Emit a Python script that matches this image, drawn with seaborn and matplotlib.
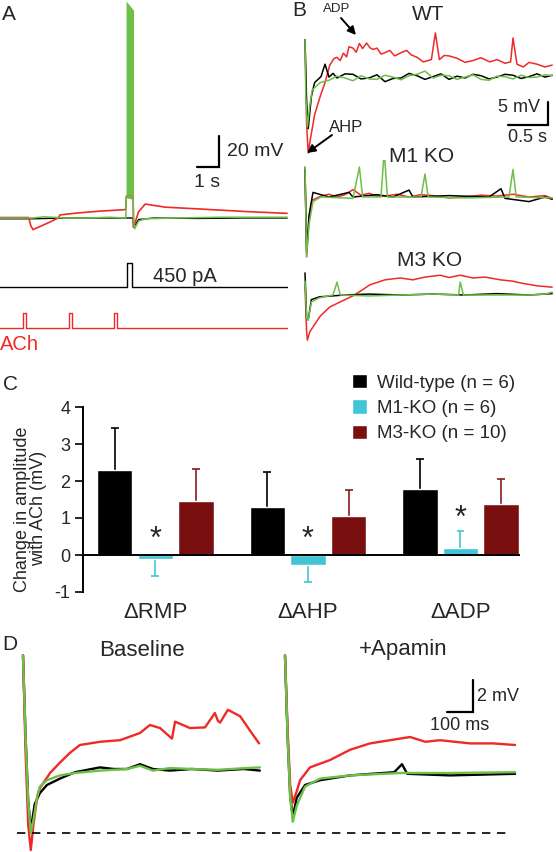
import numpy as np
import pandas as pd
import matplotlib
matplotlib.use("Agg")
import matplotlib.pyplot as plt
import seaborn as sns

# =========================================================
# DATA
# =========================================================
# panel A : voltage (s, mV), current command (pA), ACh puffs
a_black_t = [0, 1.5, 3.0, 5.0, 5.72, 6.05, 6.07, 6.3, 7.0, 9.0, 11.0, 13.05]
a_black_v = [-0.5, -0.5, 0, 0, 0, 0, -6, -1, 0, -0.3, 0, 0]
a_green_t = [0, 1.5, 2.0, 3.0, 4.0, 5.0, 5.72, 5.74, 6.05, 6.07, 6.12, 6.3, 6.6, 8.0, 10.0, 12.0, 13.05]
a_green_v = [0, 0, 0.8, 0, 0, 0.5, 0, 14, 14, 0, -7, -2, -0.5, 0, 0.5, 0.5, 0.5]
a_red_t = [0, 1.3, 1.4, 1.5, 2.27, 2.64, 2.73, 3.5, 4.5, 5.6, 5.72, 5.74, 6.05, 6.07, 6.3, 6.6, 7.5,
           9.1, 11.4, 13.05]
a_red_v = [0.3, 0.3, -5, -7.5, -2.6, 0, 2, 3.2, 4.4, 5.3, 5.5, 14, 14, -6, 4, 9, 7, 5.8, 4, 3]
burst_t = [5.73, 6.07]
burst_top = [140, 134]
burst_bottom = [13, 12]
step_t = [0, 5.76, 5.76, 6.0, 6.0, 13.05]
step_pa = [0, 0, 450, 450, 0, 0]
ach_t = [0, 1.06, 1.06, 1.18, 1.18, 3.14, 3.14, 3.26, 3.26, 5.2, 5.2, 5.33, 5.33, 13.05]
ach_v = [0, 0, 1, 1, 0, 0, 1, 1, 0, 0, 1, 1, 0, 0]

# panel B : WT / M1 KO / M3 KO (s, mV)
wt_red_t = [0, 0.02, 0.04, 0.07, 0.12, 0.19, 0.25, 0.31, 0.36, 0.4, 0.44, 0.48, 0.52, 0.55, 0.6,
            0.64, 0.68, 0.72, 0.77, 0.81, 0.85, 0.9, 0.95, 1.0, 1.06, 1.12, 1.2, 1.27, 1.33, 1.4,
            1.48, 1.58, 1.63, 1.68, 1.74, 1.8, 1.9, 2.0, 2.1, 2.2, 2.31, 2.4, 2.5, 2.57, 2.6, 2.65,
            2.73, 2.8, 2.9, 3.0, 3.09]
wt_red_v = [8.3, -10, -16.3, -13, -8, -4, -1, 2.8, 4.2, 4.5, 3.8, 5.4, 4.6, 6.8, 6.5, 5.6, 7.5, 6.4,
            7.6, 6.6, 6.2, 6.5, 5.2, 5.5, 6, 4.8, 5.5, 6, 5.0, 4.5, 3.5, 4, 9.8, 4, 4.9, 4.8, 4.3,
            3.4, 3.8, 4.4, 3.5, 4.0, 3.2, 3.5, 8.7, 3, 2.4, 3.4, 3, 2.4, 2.8]
wt_black_t = [0, 0.02, 0.04, 0.08, 0.12, 0.2, 0.25, 0.3, 0.35, 0.4, 0.5, 0.6, 0.7, 0.8, 0.9, 1.0,
              1.1, 1.2, 1.3, 1.4, 1.5, 1.6, 1.7, 1.8, 1.9, 2.0, 2.1, 2.2, 2.3, 2.4, 2.5, 2.6, 2.7,
              2.8, 2.9, 3.0, 3.09]
wt_black_v = [8.3, -5, -11, -4, -1, 0.3, 3, 0.2, 1.0, 0, 0.9, 0.8, -0.2, 0, 0.7, -0.8, -0.1, 0,
              1.0, 0.5, -0.3, 0.3, 0.9, -0.3, 0.4, 0, 0.8, 0.5, -0.2, 0.2, 0.8, 0.6, -0.1, 0.3, 0.9,
              0.2, 0.6]
wt_green_t = [0, 0.01, 0.03, 0.06, 0.09, 0.19, 0.3, 0.4, 0.5, 0.6, 0.7, 0.8, 0.9, 1.0, 1.1, 1.2,
              1.3, 1.4, 1.5, 1.6, 1.7, 1.8, 1.9, 2.0, 2.1, 2.2, 2.3, 2.4, 2.5, 2.6, 2.7, 2.8, 2.9,
              3.0, 3.09]
wt_green_v = [8.3, -4, -10.6, -6, -2.6, -1, -0.5, 0.4, 0, -0.6, 0.5, -0.2, -0.3, 0.6, 0.2, -0.4,
              0.5, 0.8, 1.5, 0, 0.6, 0.5, -0.3, 0.2, 0.7, -0.3, -0.5, 0.4, 0.3, -0.2, 0.6, 0.1, 0.2,
              0.7, 0.5]

m1_red_t = [0, 0.02, 0.05, 0.09, 0.2, 0.3, 0.4, 0.5, 0.6, 0.7, 0.8, 0.9, 1.0, 1.15, 1.3, 1.45, 1.6,
            1.8, 2.0, 2.2, 2.4, 2.6, 2.8, 3.0, 3.09]
m1_red_v = [6.5, -13, -5, -0.7, 0.2, 0.6, 0, 0.5, 1.6, 0.4, 0.8, 0.2, 0.2, 0.6, 0, 0.5, 0.3, -0.2,
            0, 0.4, 0.2, 0.6, 0, 0.3, -0.3]
m1_black_t = [0, 0.02, 0.05, 0.1, 0.3, 0.55, 0.6, 0.9, 1.1, 1.3, 1.35, 1.8, 2.3, 2.45, 2.5, 2.8, 3.0,
              3.09]
m1_black_v = [6, -12, -4, 1, 0, 1, 0, 0.5, 0, 1.5, 0, 0.3, 0, 1.8, -0.3, -1, 0, -0.5]
m1_green_t = [0, 0.02, 0.05, 0.1, 0.2, 0.6, 0.68, 0.72, 0.95, 0.99, 1.03, 1.45, 1.5, 1.54, 2.0, 2.55,
              2.6, 2.64, 3.09]
m1_green_v = [6.5, -13, -6, -1, 0, -0.3, 6.5, 0, 0, 10, 0, 0, 5, 0, -0.2, 0, 6, 0, -0.2]

m3_red_t = [0, 0.02, 0.03, 0.06, 0.19, 0.31, 0.5, 0.62, 0.81, 1.0, 1.19, 1.35, 1.5, 1.69, 1.8,
            1.94, 2.1, 2.25, 2.44, 2.6, 2.7, 2.9, 3.09]
m3_red_v = [2, -8, -9.8, -8, -4.6, -2.6, -1, 0, 2.2, 3.3, 3.7, 3.3, 3.9, 4.3, 3.8, 4.3, 3.7, 3.9,
            3.3, 3.0, 2.6, 2, 1.7]
m3_black_t = [0, 0.02, 0.04, 0.08, 0.18, 0.5, 0.8, 1.2, 1.6, 2.0, 2.4, 2.8, 3.09]
m3_black_v = [4.8, -5, -5.4, -1, -0.4, 0, 0.2, 0, 0.2, 0, 0.3, 0, 0.3]
m3_green_t = [0, 0.02, 0.04, 0.08, 0.18, 0.35, 0.4, 0.44, 0.8, 1.2, 1.6, 1.92, 1.94, 1.98, 2.4, 2.8,
              3.0, 3.09]
m3_green_v = [3, -5, -5.4, -1.5, -0.6, 0, 2.8, 0, -0.2, 0, 0.2, 0, 2.8, 0, 0, 0, 0.2, 0.6]

# panel C : change in amplitude with ACh (mV)
measures = ["\u0394RMP", "\u0394AHP", "\u0394ADP"]
genotypes = ["Wild-type (n = 6)", "M1-KO (n = 6)", "M3-KO (n = 10)"]
wt_mean = [2.3, 1.3, 1.78]
wt_err = [1.14, 0.94, 0.82]
m1_mean = [-0.1, -0.26, 0.18]
m1_err = [0.46, 0.47, 0.47]
m3_mean = [1.47, 1.05, 1.38]
m3_err = [0.86, 0.7, 0.68]
star_y = [0.42, 0.42, 0.98]

# panel D : baseline / +apamin (ms, mV above reference)
d_base_red_t = [0, 10, 20, 30, 40, 55, 65, 104, 142, 180, 219, 296, 373, 450, 488, 527, 573, 585,
                642, 700, 738, 750, 758, 788, 835, 873, 908]
d_base_red_v = [11.1, 5, 0.5, -1.06, 0.5, 2.3, 2.8, 3.75, 4.4, 5.0, 5.5, 5.7, 5.8, 6.25, 6.75, 6.56,
                5.9, 6.96, 6.56, 6.6, 7.5, 7.0, 6.9, 7.7, 7.3, 6.4, 5.6]
d_base_black_t = [0, 10, 20, 30, 45, 65, 92, 142, 200, 296, 350, 400, 450, 500, 565, 650, 750, 850,
                  911]
d_base_black_v = [11.1, 6, 2, 0.2, 1.8, 2.5, 3.0, 3.4, 3.8, 4.1, 4.0, 4.0, 4.3, 4.0, 3.9, 4.0, 3.9,
                  4.0, 3.9]
d_base_green_t = [0, 10, 20, 30, 40, 55, 65, 92, 142, 200, 296, 400, 450, 500, 565, 650, 750, 850,
                  911]
d_base_green_v = [11.1, 6, 2, 0, 0.8, 2.3, 2.9, 3.3, 3.6, 3.75, 3.9, 4.0, 4.2, 3.9, 4.06, 4.0, 3.95,
                  4.05, 4.1]
d_apa_red_t = [0, 10, 20, 30, 45, 58, 96, 173, 250, 327, 404, 481, 540, 596, 712, 800, 885]
d_apa_red_v = [11.1, 6.5, 3, 1.9, 2.6, 3.3, 4.1, 4.56, 5.2, 5.6, 5.8, 6.0, 5.7, 5.8, 5.6, 5.6, 5.5]
d_apa_black_t = [0, 10, 20, 30, 45, 77, 135, 250, 420, 450, 470, 635, 885]
d_apa_black_v = [11.1, 6, 2.3, 1.0, 2.2, 3.0, 3.3, 3.6, 3.8, 4.3, 3.7, 3.6, 3.7]
d_apa_green_t = [0, 10, 20, 30, 45, 77, 135, 250, 442, 635, 885]
d_apa_green_v = [11.1, 6, 2.2, 0.7, 1.7, 2.9, 3.4, 3.6, 3.75, 3.75, 3.8]

# =========================================================
# STYLE
# =========================================================
sns.set_theme(style="white")
plt.rcParams["font.family"] = ["Liberation Sans", "DejaVu Sans"]
plt.rcParams["axes.unicode_minus"] = False

RED = "#ee2a26"
GREEN = "#6cbf47"
BLACK = "black"
CYAN = "#3fc5d6"
DARKRED = "#7a0f0f"

W, H = 556, 852
fig = plt.figure(figsize=(W / 100, H / 100), dpi=100)


def rect(x0, y0, x1, y1):
    return [x0 / W, 1 - y1 / H, (x1 - x0) / W, (y1 - y0) / H]


def ftext(x, y, s, **kw):
    fig.text(x / W, 1 - y / H, s, **kw)


def trace_ax(r, xlim, ylim):
    ax = fig.add_axes(r)
    ax.set_xlim(*xlim)
    ax.set_ylim(*ylim)
    ax.set_axis_off()
    ax.patch.set_alpha(0)
    return ax


def trace(ax, t, v, color, lw):
    sns.lineplot(x=t, y=v, color=color, lw=lw, ax=ax, sort=False, estimator=None)


# =========================================================
# PANEL A
# =========================================================
axA = trace_ax(rect(0, 0, 290, 240), (0, 290 / 22), ((218 - 240) / 1.55, 218 / 1.55))
trace(axA, a_black_t, a_black_v, BLACK, 1.0)
trace(axA, a_red_t, a_red_v, RED, 1.2)
trace(axA, a_green_t, a_green_v, GREEN, 1.1)
axA.fill_between(burst_t, burst_bottom, burst_top, color=GREEN, lw=0)
# scale bar 1 s / 20 mV
axA.plot([8.95, 9.95, 9.95], [32.9, 32.9, 52.9], color="black", lw=1.6, solid_joinstyle="miter")
axA.text(10.3, 43, "20 mV", fontsize=14, va="center", ha="left")
axA.text(9.4, 23, "1 s", fontsize=14, va="center", ha="center")

axI = trace_ax(rect(0, 255, 290, 295), (0, 290 / 22), (-150, 600))
trace(axI, step_t, step_pa, BLACK, 1.0)
axI.text(6.95, 206, "450 pA", fontsize=14.5, va="center", ha="left")

axP = trace_ax(rect(0, 305, 290, 335), (0, 290 / 22), (-7 / 15, 23 / 15))
trace(axP, ach_t, ach_v, RED, 1.0)
ftext(0, 344, "ACh", color=RED, fontsize=14.5, va="center", ha="left")

# =========================================================
# PANEL B
# =========================================================
bx = ((295 - 305) / 80, (556 - 305) / 80)
axWT = trace_ax(rect(295, 25, 556, 165), bx, ((78 - 165) / 4.6, (78 - 25) / 4.6))
trace(axWT, wt_red_t, wt_red_v, RED, 1.1)
trace(axWT, wt_black_t, wt_black_v, BLACK, 1.1)
trace(axWT, wt_green_t, wt_green_v, GREEN, 1.1)
axWT.plot([2.54, 3.04, 3.04], [-10.2, -10.2, -5.2], color="black", lw=1.6, solid_joinstyle="miter")
ftext(519, 108, "5 mV", fontsize=13, va="center", ha="center")
ftext(527, 138, "0.5 s", fontsize=13, va="center", ha="center")

axM1 = trace_ax(rect(295, 160, 556, 265), bx, ((197 - 265) / 4.6, (197 - 160) / 4.6))
trace(axM1, m1_red_t, m1_red_v, RED, 1.1)
trace(axM1, m1_black_t, m1_black_v, BLACK, 1.1)
trace(axM1, m1_green_t, m1_green_v, GREEN, 1.1)

axM3 = trace_ax(rect(295, 265, 556, 345), bx, ((295 - 345) / 4.6, (295 - 265) / 4.6))
trace(axM3, m3_red_t, m3_red_v, RED, 1.1)
trace(axM3, m3_black_t, m3_black_v, BLACK, 1.1)
trace(axM3, m3_green_t, m3_green_v, GREEN, 1.1)

ftext(428, 14, "WT", fontsize=15, va="center", ha="center")
ftext(422, 156, "M1 KO", fontsize=15, va="center", ha="center")
ftext(430, 261, "M3 KO", fontsize=15, va="center", ha="center")
ftext(337, 9, "ADP", fontsize=9.5, va="center", ha="center")
ftext(346, 127, "AHP", fontsize=12, va="center", ha="center")
arrow = dict(arrowstyle="-|>", color="black", lw=1.4, mutation_scale=12, shrinkA=0, shrinkB=0)
fig.add_artist(plt.Annotation("", xy=(356 / W, 1 - 35 / H), xytext=(341 / W, 1 - 18 / H),
                              xycoords="figure fraction", arrowprops=arrow))
fig.add_artist(plt.Annotation("", xy=(307 / W, 1 - 153 / H), xytext=(332 / W, 1 - 135 / H),
                              xycoords="figure fraction", arrowprops=arrow))

# =========================================================
# PANEL C
# =========================================================
df = pd.DataFrame({
    "measure": measures * 3,
    "genotype": [g for g in genotypes for _ in measures],
    "mean": wt_mean + m1_mean + m3_mean,
    "err": wt_err + m1_err + m3_err,
})
axBar = fig.add_axes(rect(83, 407, 520, 592))
sns.barplot(data=df, x="measure", y="mean", hue="genotype", hue_order=genotypes,
            palette=[BLACK, CYAN, DARKRED], width=0.8, gap=0.13, errorbar=None,
            saturation=1, ax=axBar, zorder=2)
# one-sided error bars with a cap at the far end only
err_colors = [BLACK, CYAN, "#8a1c1c"]
cap = 0.026
for container, g, col in zip(axBar.containers, genotypes, err_colors):
    sub = df[df["genotype"] == g]
    for bar, m, e in zip(container, sub["mean"], sub["err"]):
        xc = bar.get_x() + bar.get_width() / 2
        end = m + e if m >= 0 else m - e
        axBar.vlines(xc, m, end, color=col, lw=1.2, zorder=1)
        axBar.hlines(end, xc - cap, xc + cap, color=col, lw=1.2, zorder=1)
for i, y in enumerate(star_y):
    axBar.text(i, y, "*", fontsize=22, ha="center", va="center")
axBar.axhline(0, color="black", lw=1.4, zorder=5)
axBar.set_xlim(-0.474, 2.39)
axBar.set_ylim(-1, 4)
axBar.set_yticks([-1, 0, 1, 2, 3, 4])
axBar.tick_params(axis="y", left=True, direction="out", length=6, width=1.4, labelsize=13, pad=3)
axBar.tick_params(axis="x", bottom=False, labelsize=16, pad=1)
axBar.set_xlabel("")
axBar.set_ylabel("Change in amplitude\nwith ACh (mV)", fontsize=13, linespacing=0.95)
axBar.yaxis.set_label_coords(-0.082, 0.45)
for s in ["top", "right", "bottom"]:
    axBar.spines[s].set_visible(False)
axBar.spines["left"].set_linewidth(1.4)
axBar.spines["left"].set_color("black")
axBar.patch.set_alpha(0)
handles, labels = axBar.get_legend_handles_labels()
axBar.legend(handles, labels, loc="upper left", bbox_to_anchor=(352 / W, 1 - 374 / H),
             bbox_transform=fig.transFigure, frameon=False, fontsize=13.5, handlelength=0.78,
             handleheight=0.78, handletextpad=0.55, labelspacing=0.42, borderpad=0,
             borderaxespad=0)

# =========================================================
# PANEL D
# =========================================================
dy = ((833 - 852) / 16, (833 - 640) / 16)
axDL = trace_ax(rect(0, 640, 270, 852), (-23 / 0.26, (270 - 23) / 0.26), dy)
trace(axDL, d_base_black_t, d_base_black_v, BLACK, 1.7)
trace(axDL, d_base_red_t, d_base_red_v, RED, 1.7)
trace(axDL, d_base_green_t, d_base_green_v, GREEN, 1.7)
axDL.axhline(0, xmin=17 / 270, xmax=510 / 270, color="black", lw=1.2, ls=(0, (5, 4)),
             clip_on=False)

axDR = trace_ax(rect(270, 640, 556, 852), ((270 - 285) / 0.26, (556 - 285) / 0.26), dy)
trace(axDR, d_apa_black_t, d_apa_black_v, BLACK, 1.7)
trace(axDR, d_apa_red_t, d_apa_red_v, RED, 1.7)
trace(axDR, d_apa_green_t, d_apa_green_v, GREEN, 1.7)
axDR.plot([623, 723, 723], [7.56, 7.56, 9.56], color="black", lw=1.6, solid_joinstyle="miter")
axDR.text(740, 8.56, "2 mV", fontsize=13, va="center", ha="left")
axDR.text(673, 6.75, "100 ms", fontsize=13, va="center", ha="center")

ftext(142, 650, "Baseline", fontsize=16, va="center", ha="center")
ftext(403, 650, "+Apamin", fontsize=16, va="center", ha="center")

# panel letters
for x, y, s in [(2, 14, "A"), (292, 10, "B"), (3, 384, "C"), (2, 645, "D")]:
    ftext(x, y, s, fontsize=15, va="center", ha="left")

fig.savefig("out.png", dpi=100)
